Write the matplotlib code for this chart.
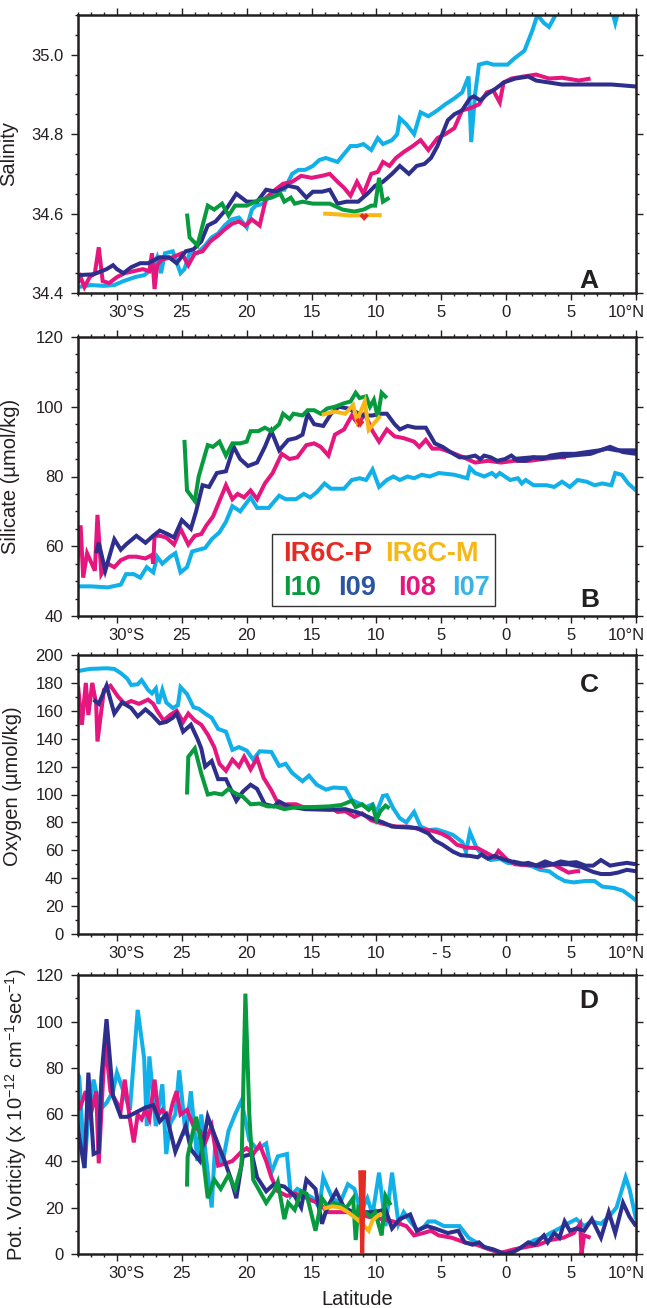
import matplotlib
matplotlib.use('Agg')
import matplotlib.pyplot as plt
from matplotlib.ticker import MultipleLocator
from matplotlib.patches import Rectangle

plt.rcParams['font.family'] = ['Liberation Sans', 'DejaVu Sans']
plt.rcParams['mathtext.fontset'] = 'custom'
plt.rcParams['mathtext.rm'] = 'Liberation Sans'
plt.rcParams['mathtext.it'] = 'Liberation Sans:italic'
plt.rcParams['mathtext.bf'] = 'Liberation Sans:bold'

# --- colours of the sections ---
C_I07 = '#12b0e8'
C_I08 = '#e5177e'
C_I09 = '#2e2f8c'
C_I10 = '#089a3e'
C_IR6P = '#e42b24'
C_IR6M = '#f6b816'
TXT = '#231f20'

# --- x axis (latitude, south negative) ---
lat_ticks = [-30, -25, -20, -15, -10, -5, 0, 5, 10]
lat_labels = ['30°S', '25', '20', '15', '10', '5', '0', '5', '10°N']
lat_labels_c = ['30°S', '25', '20', '15', '10', '- 5', '0', '5', '10°N']

# --- A: salinity (lat, value) ---
sal_i07 = [(-33.0, 34.415), (-32.0, 34.42), (-31.0, 34.418), (-30.2, 34.42), (-29.5, 34.43),
           (-28.6, 34.44), (-27.9, 34.445), (-27.3, 34.46), (-26.9, 34.49), (-26.6, 34.45),
           (-26.3, 34.50), (-25.7, 34.505), (-25.1, 34.45), (-24.8, 34.46), (-24.4, 34.50),
           (-23.8, 34.50), (-23.2, 34.52), (-22.7, 34.54), (-22.2, 34.55), (-21.7, 34.57),
           (-21.2, 34.585), (-20.6, 34.59), (-20.0, 34.565), (-19.6, 34.61), (-19.3, 34.62),
           (-18.7, 34.625), (-18.1, 34.65), (-17.5, 34.66), (-17.1, 34.66), (-16.5, 34.70),
           (-16.0, 34.71), (-15.5, 34.71), (-14.9, 34.72), (-14.4, 34.735), (-13.9, 34.74),
           (-13.0, 34.73), (-12.5, 34.75), (-12.0, 34.77), (-11.5, 34.77), (-11.0, 34.775),
           (-10.4, 34.76), (-9.9, 34.79), (-9.5, 34.775), (-8.8, 34.785), (-8.4, 34.80),
           (-8.2, 34.84), (-7.7, 34.825), (-7.1, 34.80), (-6.6, 34.855), (-6.0, 34.845),
           (-5.3, 34.86), (-4.7, 34.875), (-4.0, 34.89), (-3.4, 34.905), (-2.9, 34.945),
           (-2.7, 34.78), (-2.4, 34.90), (-2.1, 34.975), (-1.5, 34.98), (-1.0, 34.975),
           (-0.5, 34.975), (0.1, 34.975), (0.6, 34.99), (1.0, 35.0), (1.4, 35.01),
           (2.0, 35.06), (2.4, 35.10), (2.9, 35.08), (3.3, 35.07), (3.8, 35.10),
           (4.3, 35.13), (5.5, 35.14), (7.0, 35.14), (8.0, 35.13), (8.4, 35.08),
           (8.8, 35.13), (10.0, 35.14)]
sal_i08 = [(-33.0, 34.425), (-32.8, 34.44), (-32.5, 34.415), (-32.1, 34.44), (-31.7, 34.45),
           (-31.4, 34.515), (-31.1, 34.43), (-30.6, 34.425), (-30.0, 34.44), (-29.4, 34.45),
           (-28.7, 34.455), (-28.0, 34.46), (-27.5, 34.455), (-27.3, 34.50), (-27.1, 34.41),
           (-26.9, 34.47), (-26.5, 34.485), (-25.7, 34.49), (-25.0, 34.50), (-24.5, 34.47),
           (-24.0, 34.50), (-23.4, 34.505), (-22.8, 34.53), (-22.2, 34.545), (-21.7, 34.56),
           (-21.1, 34.575), (-20.6, 34.58), (-20.1, 34.57), (-19.6, 34.585), (-19.0, 34.57),
           (-18.5, 34.64), (-17.8, 34.66), (-17.2, 34.675), (-16.5, 34.68), (-15.8, 34.695),
           (-15.0, 34.69), (-14.2, 34.695), (-13.6, 34.70), (-13.0, 34.68), (-12.5, 34.665),
           (-12.0, 34.645), (-11.5, 34.68), (-11.0, 34.65), (-10.4, 34.70), (-9.9, 34.705),
           (-9.5, 34.73), (-9.0, 34.72), (-8.5, 34.74), (-7.9, 34.755), (-7.2, 34.77),
           (-6.6, 34.785), (-6.0, 34.76), (-5.3, 34.79), (-4.7, 34.80), (-4.0, 34.815),
           (-3.4, 34.86), (-2.8, 34.865), (-2.1, 34.875), (-1.5, 34.905), (-1.0, 34.91),
           (-0.5, 34.88), (-0.2, 34.93), (0.4, 34.94), (1.3, 34.945), (2.3, 34.95),
           (3.3, 34.94), (4.3, 34.942), (5.6, 34.935), (6.5, 34.94)]
sal_i09 = [(-33.0, 34.445), (-31.8, 34.447), (-30.8, 34.46), (-30.3, 34.47), (-30.0, 34.46),
           (-29.5, 34.45), (-28.9, 34.465), (-28.2, 34.475), (-27.6, 34.475), (-26.7, 34.49),
           (-26.0, 34.49), (-25.4, 34.475), (-24.7, 34.505), (-24.1, 34.51), (-23.5, 34.53),
           (-23.0, 34.57), (-22.4, 34.58), (-21.6, 34.61), (-20.8, 34.65), (-20.0, 34.63),
           (-19.2, 34.63), (-18.5, 34.66), (-17.7, 34.655), (-16.8, 34.67), (-16.1, 34.665),
           (-15.4, 34.64), (-14.9, 34.655), (-14.2, 34.655), (-13.6, 34.66), (-13.0, 34.625),
           (-12.3, 34.63), (-11.4, 34.63), (-10.7, 34.65), (-10.1, 34.67), (-9.5, 34.68),
           (-8.8, 34.70), (-8.2, 34.72), (-7.5, 34.70), (-6.9, 34.72), (-6.3, 34.725),
           (-5.8, 34.74), (-5.3, 34.77), (-4.5, 34.835), (-4.0, 34.85), (-3.4, 34.86),
           (-2.8, 34.89), (-2.5, 34.895), (-2.0, 34.885), (-1.5, 34.90), (-0.8, 34.915),
           (-0.2, 34.93), (0.7, 34.94), (1.7, 34.945), (2.3, 34.935), (3.3, 34.93),
           (4.3, 34.925), (6.2, 34.925), (8.1, 34.925), (10.0, 34.92)]
sal_i10 = [(-24.6, 34.60), (-24.4, 34.54), (-23.8, 34.52), (-23.0, 34.62), (-22.5, 34.61),
           (-21.9, 34.625), (-21.4, 34.595), (-20.9, 34.62), (-20.0, 34.62), (-19.0, 34.635),
           (-18.1, 34.64), (-17.4, 34.65), (-17.1, 34.63), (-16.6, 34.64), (-16.3, 34.625),
           (-15.7, 34.63), (-14.9, 34.625), (-13.6, 34.625), (-12.6, 34.61), (-11.7, 34.605),
           (-11.0, 34.61), (-10.4, 34.62), (-10.1, 34.62), (-9.8, 34.69), (-9.5, 34.63),
           (-9.0, 34.64)]
sal_ir6m = [(-14.1, 34.600), (-13.0, 34.598), (-12.0, 34.595), (-11.0, 34.596), (-10.0, 34.596),
            (-9.6, 34.596)]
sal_ir6p = [(-11.2, 34.598), (-10.95, 34.589), (-10.7, 34.598)]

# --- B: silicate ---
sil_i07 = [(-33.1, 48.5), (-32.0, 48.5), (-30.7, 48.2), (-29.7, 49), (-29.3, 52), (-28.7, 52),
           (-28.2, 51), (-27.7, 54), (-27.2, 52.5), (-26.9, 57), (-26.5, 55), (-25.9, 57),
           (-25.5, 58), (-25.1, 52.5), (-24.6, 54), (-24.2, 58.5), (-23.7, 59), (-23.2, 59.5),
           (-22.7, 62), (-22.1, 64), (-21.6, 67), (-21.1, 71.5), (-20.5, 70), (-19.7, 74),
           (-19.2, 71), (-18.3, 71), (-17.5, 74.5), (-17.0, 73.5), (-16.2, 73.5), (-15.6, 75),
           (-15.1, 74), (-14.6, 75.5), (-14.0, 78), (-13.5, 76.5), (-12.5, 76.5), (-11.9, 79),
           (-11.3, 79.5), (-10.8, 79), (-10.3, 82), (-9.8, 77), (-9.2, 79), (-8.7, 80),
           (-8.2, 79), (-7.6, 80), (-7.1, 79.5), (-6.5, 80.5), (-5.9, 80), (-5.2, 81),
           (-4.0, 80.5), (-3.0, 79.5), (-2.8, 82.5), (-2.4, 81), (-1.7, 80), (-1.1, 81),
           (-0.8, 80), (-0.5, 81), (0.3, 79), (0.9, 79.5), (1.2, 78), (1.5, 79), (2.1, 77.5),
           (3.1, 77.5), (3.7, 77), (4.3, 78.5), (4.9, 77), (5.5, 79), (6.2, 78.5), (6.8, 77.5),
           (7.4, 78), (8.1, 77.5), (8.4, 81), (8.9, 80.5), (9.4, 78), (10.0, 76)]
sil_i08 = [(-33.1, 53), (-32.8, 66), (-32.6, 51), (-32.3, 58), (-31.7, 53), (-31.5, 69),
           (-31.2, 52), (-30.7, 55), (-30.2, 54), (-29.7, 56), (-29.1, 57), (-28.5, 57),
           (-27.8, 56.5), (-27.3, 57.5), (-27.2, 55), (-27.1, 63), (-26.7, 63), (-26.2, 62.5),
           (-25.6, 60.5), (-25.1, 65), (-24.5, 60.5), (-24.0, 63), (-23.5, 63.5), (-23.1, 66),
           (-22.6, 68.5), (-22.1, 73), (-21.6, 77.5), (-21.1, 73.5), (-20.7, 75), (-20.2, 74),
           (-19.7, 76), (-19.2, 73.5), (-18.6, 78), (-18.0, 81), (-17.3, 86.5), (-16.7, 85),
           (-16.1, 85.5), (-15.4, 89), (-14.8, 89.5), (-14.3, 88.5), (-13.7, 86), (-13.2, 92),
           (-12.5, 93.5), (-11.9, 97.5), (-11.4, 95), (-10.9, 98), (-10.3, 93), (-9.8, 90),
           (-9.2, 93.5), (-8.6, 91.5), (-7.9, 91), (-7.1, 90), (-6.7, 88.5), (-6.2, 90.5),
           (-5.7, 88), (-5.1, 88), (-4.3, 87), (-3.3, 85.5), (-2.4, 84), (-1.4, 84.5),
           (-0.4, 84), (0.6, 84.5), (1.8, 84.5), (2.8, 85), (4.1, 85.5), (4.6, 85.5)]
sil_i09 = [(-31.6, 58), (-31.4, 61), (-30.9, 53), (-30.2, 62), (-29.7, 59), (-29.3, 60.5),
           (-28.5, 63), (-27.8, 61), (-27.2, 63), (-26.7, 64.5), (-26.1, 63.5), (-25.6, 62.5),
           (-25.0, 67.5), (-24.3, 65), (-23.9, 70), (-23.4, 77.5), (-22.9, 77), (-22.3, 81),
           (-21.6, 81.5), (-21.0, 88.5), (-20.5, 85), (-19.9, 83), (-19.2, 84), (-18.6, 88.5),
           (-18.1, 93), (-17.5, 87.5), (-16.8, 90.5), (-16.2, 91), (-15.7, 92), (-15.3, 98),
           (-14.8, 95), (-14.1, 94.5), (-13.5, 98), (-12.9, 100), (-12.2, 99.5), (-11.6, 98.5),
           (-11.0, 97.5), (-10.3, 97.5), (-9.7, 98), (-9.2, 98), (-8.6, 95), (-8.2, 93.5),
           (-7.6, 94.5), (-7.0, 94), (-6.2, 94), (-5.5, 89.5), (-4.9, 88.5), (-4.3, 87),
           (-3.6, 85.5), (-3.0, 85.5), (-2.4, 86), (-2.0, 85), (-1.7, 86), (-1.2, 85.5),
           (-0.7, 84.5), (-0.1, 85), (0.4, 86), (0.9, 84.5), (1.5, 84.5), (2.1, 85.5),
           (2.8, 85), (3.4, 86), (4.3, 86.5), (5.3, 86.5), (6.2, 87), (7.2, 87.5), (7.8, 88),
           (8.5, 87.5), (9.1, 87.5), (10.0, 87.5)]
sil_i09b = [(0.5, 85), (2.0, 85.5), (3.5, 85.5), (5.0, 86), (6.5, 86.5), (8.0, 88.5),
            (9.0, 87), (10.0, 86.5)]
sil_i10 = [(-24.8, 90.5), (-24.6, 76), (-24.0, 73), (-23.7, 80), (-23.0, 89), (-22.6, 88.5),
           (-22.1, 90), (-21.6, 86), (-21.1, 89.5), (-20.5, 89.5), (-20.0, 90), (-19.7, 93),
           (-19.1, 93), (-18.6, 94), (-18.1, 93), (-17.5, 95), (-17.2, 98), (-16.7, 96.5),
           (-16.4, 98), (-15.7, 97.5), (-15.3, 99), (-14.8, 99), (-14.3, 98), (-13.8, 99.5),
           (-13.2, 100), (-12.5, 101), (-12.0, 101.5), (-11.6, 104), (-11.3, 102.5),
           (-10.8, 103), (-10.5, 100), (-10.2, 102), (-9.9, 97), (-9.6, 104), (-9.2, 102.5)]
sil_ir6m = [(-14.2, 97.7), (-13.2, 98.6), (-12.4, 98), (-11.8, 100.5), (-11.5, 96),
            (-10.9, 101.5), (-10.6, 93.4), (-9.7, 97.4)]
sil_ir6p = [(-11.5, 96.5), (-11.25, 95), (-11.05, 96)]

# --- C: oxygen ---
oxy_i07 = [(-33.0, 188.5), (-32.1, 190), (-30.8, 190.5), (-30.2, 190), (-29.7, 187), (-29.2, 183),
           (-28.9, 178.5), (-28.4, 179), (-28.1, 182), (-27.6, 175), (-27.3, 172.5), (-27.0, 176),
           (-26.8, 165), (-26.5, 175), (-26.2, 166), (-25.7, 162), (-25.3, 164), (-25.1, 177),
           (-24.6, 172), (-24.1, 162.5), (-23.7, 161.5), (-23.2, 158), (-22.7, 155), (-22.2, 147),
           (-21.6, 145), (-21.1, 132), (-20.6, 134), (-20.0, 131.5), (-19.5, 125), (-19.0, 131),
           (-18.1, 130.5), (-17.5, 120.5), (-17.0, 122), (-16.5, 115.5), (-15.7, 109.5),
           (-15.2, 113.5), (-14.6, 107), (-13.9, 103.5), (-13.3, 105), (-12.4, 104.5),
           (-11.9, 96), (-11.2, 93), (-10.8, 91), (-10.3, 93), (-10.0, 87), (-9.5, 99),
           (-9.2, 99.5), (-8.7, 90), (-8.2, 83), (-7.7, 80), (-7.1, 87.5), (-6.6, 77),
           (-6.0, 74.5), (-5.4, 75), (-4.7, 73), (-4.1, 71), (-3.4, 66), (-3.1, 59), (-2.8, 73),
           (-2.3, 62), (-1.8, 56), (-1.2, 53), (-0.5, 54), (0.1, 51), (0.7, 50.5), (1.4, 49.5),
           (2.0, 48.5), (2.6, 46), (3.3, 45), (3.9, 41), (4.5, 38), (5.2, 37), (6.1, 38),
           (6.8, 38), (7.4, 34), (8.3, 33), (9.0, 31), (9.6, 27), (10.0, 24)]
oxy_i08 = [(-33.0, 178), (-32.7, 150), (-32.4, 180), (-32.2, 157), (-31.9, 180), (-31.6, 165),
           (-31.5, 138), (-31.0, 175), (-30.5, 178), (-29.9, 170), (-29.4, 165), (-28.9, 167),
           (-28.3, 165), (-27.6, 168), (-27.2, 165), (-26.9, 160), (-26.4, 153), (-25.9, 157),
           (-25.4, 160), (-24.9, 152), (-24.5, 158), (-24.0, 153), (-23.5, 150), (-23.0, 143),
           (-22.5, 134), (-22.1, 122), (-21.6, 117), (-21.1, 125), (-20.6, 120), (-20.2, 127),
           (-19.7, 118), (-19.2, 126), (-18.7, 112), (-18.1, 103), (-17.5, 92), (-16.8, 93),
           (-16.2, 93), (-15.4, 90), (-14.6, 90.5), (-13.6, 91), (-13.0, 87.5), (-12.4, 88),
           (-11.7, 84), (-11.1, 86.5), (-10.4, 81.5), (-9.5, 79), (-8.5, 77), (-7.6, 77),
           (-6.6, 75), (-5.7, 74), (-5.0, 72), (-4.4, 69), (-3.8, 64), (-3.1, 62), (-2.2, 61.5),
           (-1.5, 58), (-0.9, 55), (-0.6, 59.5), (0.1, 53), (0.7, 50), (1.4, 49.5), (2.0, 50),
           (2.6, 48), (3.6, 50), (4.2, 47), (4.8, 44), (5.4, 45), (5.7, 45)]
oxy_i09 = [(-31.8, 168), (-31.4, 165), (-30.8, 178), (-30.2, 158), (-29.6, 166), (-28.9, 162),
           (-28.4, 156), (-27.8, 161), (-27.3, 157), (-26.7, 151), (-26.2, 152), (-25.7, 155),
           (-25.4, 158), (-24.9, 145), (-24.3, 150), (-23.8, 140), (-23.5, 133), (-23.2, 120),
           (-22.7, 124), (-22.2, 111), (-21.6, 111), (-20.8, 95.5), (-20.3, 102), (-19.7, 107),
           (-19.2, 104), (-18.6, 93), (-17.9, 91.5), (-17.5, 95), (-16.8, 91.5), (-15.5, 89.5),
           (-13.6, 89), (-12.4, 89.5), (-11.4, 87), (-10.4, 83), (-9.5, 80), (-8.8, 77),
           (-7.9, 76.5), (-6.9, 76), (-6.0, 72), (-5.5, 67), (-4.9, 64), (-4.1, 59), (-3.5, 56.5),
           (-2.8, 56), (-2.2, 55), (-1.9, 57), (-1.4, 54), (-0.9, 56), (-0.2, 53.5), (0.4, 52),
           (1.1, 50), (1.7, 51), (2.3, 49), (3.0, 52), (3.6, 50), (4.2, 52), (4.8, 51),
           (5.4, 51.5), (6.1, 49), (6.7, 49), (7.3, 53), (8.0, 49), (8.6, 50), (9.3, 51),
           (10.0, 50)]
oxy_i09b = [(0.5, 52), (1.5, 50), (2.5, 49), (3.6, 50), (4.8, 50), (5.8, 48), (6.7, 44.5),
            (7.3, 43), (8.0, 43), (8.6, 44), (9.3, 46), (10.0, 45)]
oxy_i10 = [(-24.6, 100), (-24.5, 127), (-24.0, 133), (-23.5, 115), (-23.0, 100), (-22.5, 101),
           (-21.9, 100), (-21.4, 104), (-20.9, 101), (-20.3, 98.5), (-19.7, 93), (-19.0, 93.5),
           (-18.4, 91.5), (-17.8, 91.5), (-17.1, 89.5), (-16.2, 91), (-14.9, 91), (-13.6, 91.5),
           (-12.7, 92.5), (-11.9, 95.5), (-11.6, 91), (-11.1, 93), (-10.6, 89), (-10.3, 92),
           (-10.0, 82), (-9.7, 88), (-9.3, 92), (-9.0, 90)]

# --- D: potential vorticity ---
pv_i07 = [(-33.2, 80), (-32.9, 76), (-32.5, 37), (-32.2, 60), (-31.8, 75), (-31.3, 62), (-30.8, 65),
          (-30.3, 70), (-30.0, 78), (-29.5, 70), (-29.0, 62), (-28.4, 105), (-27.9, 84),
          (-27.7, 55), (-27.5, 85), (-27.0, 55), (-26.5, 73), (-26.2, 43), (-25.9, 56),
          (-25.5, 60), (-25.2, 79), (-24.7, 51), (-24.3, 70), (-23.8, 40), (-23.5, 60),
          (-23.0, 35), (-22.7, 20), (-22.4, 50), (-21.9, 38), (-21.4, 53), (-20.9, 60),
          (-20.4, 66), (-19.8, 49), (-19.2, 45), (-18.5, 47.5), (-18.1, 35), (-17.6, 42),
          (-16.9, 43), (-16.6, 25), (-16.1, 28), (-15.5, 26), (-14.9, 24), (-14.4, 20),
          (-14.1, 33), (-13.4, 24), (-12.8, 22), (-12.2, 30), (-11.7, 28), (-11.2, 18),
          (-10.7, 24), (-10.3, 17), (-9.8, 35), (-9.3, 12), (-8.8, 35), (-8.3, 13), (-7.9, 18),
          (-7.4, 14), (-6.8, 10), (-6.3, 12), (-6.0, 14), (-5.5, 14), (-4.8, 12), (-4.2, 12),
          (-3.6, 12), (-2.9, 7), (-2.3, 5), (-1.7, 3), (-1.0, 1.5), (-0.4, 0.5), (0.3, 1),
          (0.9, 2), (1.5, 4), (2.2, 6), (2.8, 7), (3.4, 9), (4.1, 11), (4.7, 13), (5.4, 15),
          (6.0, 12), (6.6, 14), (7.3, 13), (7.9, 16), (8.5, 20), (9.2, 33), (9.5, 28),
          (10.0, 15)]
pv_i08 = [(-33.2, 72), (-32.9, 62), (-32.4, 70), (-32.1, 58), (-31.6, 70), (-31.4, 39), (-31.1, 72),
          (-30.9, 92), (-30.5, 70), (-30.2, 67), (-29.7, 62), (-29.4, 75), (-29.0, 58),
          (-28.7, 48), (-28.4, 60), (-28.1, 58), (-27.8, 62), (-27.5, 58), (-27.1, 75),
          (-26.8, 60), (-26.5, 62), (-26.0, 58), (-25.7, 65), (-25.4, 70), (-25.1, 60),
          (-24.6, 62), (-24.1, 55), (-23.6, 53), (-23.2, 48), (-22.7, 55), (-22.2, 38),
          (-21.6, 39), (-21.1, 40), (-20.4, 44), (-20.0, 45.5), (-19.5, 43), (-19.0, 47),
          (-18.5, 40), (-18.1, 33), (-17.6, 27), (-16.9, 25), (-16.3, 26), (-15.7, 25),
          (-15.0, 23), (-14.4, 22), (-13.8, 18), (-12.8, 18), (-11.8, 18), (-11.2, 17),
          (-10.6, 16), (-9.6, 15), (-8.7, 14), (-7.7, 12), (-7.1, 8), (-6.4, 9), (-5.8, 10),
          (-5.2, 8), (-4.2, 7), (-3.2, 5), (-2.3, 4), (-1.3, 2), (-0.4, 0.5), (0.6, 2),
          (1.5, 3), (2.5, 4), (3.4, 6), (4.4, 7), (5.2, 9), (5.7, 13), (5.8, 0), (6.0, 8),
          (6.5, 7)]
pv_i09 = [(-33.2, 65), (-32.9, 50), (-32.5, 37), (-32.2, 78), (-31.8, 43), (-31.4, 44), (-31.2, 76),
          (-30.8, 101), (-30.3, 68), (-29.7, 59), (-29.2, 59), (-28.5, 61), (-27.8, 63),
          (-27.2, 64), (-26.7, 57), (-26.2, 60), (-25.5, 44), (-24.7, 55), (-24.3, 45),
          (-23.6, 40), (-23.0, 59), (-22.4, 50), (-21.7, 40), (-21.2, 32), (-20.8, 24),
          (-20.3, 42), (-19.6, 43), (-19.2, 33), (-18.5, 27), (-17.9, 30), (-17.1, 29),
          (-16.3, 25), (-15.8, 20), (-15.4, 32), (-14.7, 28), (-14.2, 13), (-13.8, 20),
          (-13.1, 27), (-12.5, 20), (-11.8, 18), (-11.2, 18), (-10.3, 18), (-9.3, 19), (-8.8, 11),
          (-8.2, 15), (-7.4, 17), (-6.9, 10), (-6.1, 12), (-5.5, 11), (-4.5, 9), (-3.7, 10),
          (-3.2, 5), (-2.6, 4), (-2.1, 5), (-1.7, 3), (-1.0, 2), (-0.1, 0), (0.6, 1), (1.2, 3),
          (1.7, 5), (2.2, 4), (2.9, 8), (3.2, 5), (3.7, 9), (4.1, 7), (4.5, 14), (4.9, 10),
          (5.4, 11), (6.0, 10), (6.6, 15), (7.3, 7), (7.9, 18), (8.4, 9), (9.0, 22), (9.5, 16),
          (10.0, 12)]
pv_i10 = [(-24.6, 29), (-24.55, 42), (-23.9, 59), (-23.5, 48), (-23.0, 24), (-22.5, 32),
          (-22.0, 28), (-21.4, 34), (-20.9, 28), (-20.4, 38), (-20.1, 112), (-19.8, 60),
          (-19.5, 32), (-18.5, 22), (-17.9, 27), (-17.6, 31), (-17.1, 15), (-16.8, 22),
          (-16.3, 19), (-15.8, 27), (-15.4, 26), (-14.7, 10), (-14.2, 24), (-13.7, 20),
          (-13.3, 22), (-12.8, 21), (-12.3, 20), (-11.8, 24), (-11.6, 6), (-11.4, 20),
          (-10.9, 18), (-10.4, 16), (-10.1, 18), (-9.6, 8), (-9.3, 25), (-8.9, 21)]
pv_ir6m = [(-14.1, 19.5), (-13.4, 20.5), (-12.8, 20), (-12.2, 18), (-11.5, 15), (-11.1, 13),
           (-10.6, 10), (-10.3, 14.5), (-10.0, 16), (-9.6, 17.5)]
pv_ir6p = [(-11.25, 36), (-11.1, 0.5), (-10.95, 36)]

fig = plt.figure(figsize=(6.47, 13.08), dpi=100)
W, H = 647.0, 1308.0
LEFT, RIGHT = 78, 636
panel_px = [(15, 293), (337, 616), (655, 934), (975, 1254)]  # top, bottom in pixels


def make_axes(top, bottom):
    return fig.add_axes([LEFT / W, 1 - bottom / H, (RIGHT - LEFT) / W, (bottom - top) / H])


def style_axes(ax, ylim, major, minor, labels):
    ax.set_xlim(-33, 10)
    ax.set_ylim(*ylim)
    ax.set_xticks(lat_ticks)
    ax.xaxis.set_minor_locator(MultipleLocator(1))
    ax.yaxis.set_major_locator(MultipleLocator(major))
    ax.yaxis.set_minor_locator(MultipleLocator(minor))
    ax.tick_params(which='both', direction='out', top=True, right=True,
                   color=TXT, width=1.0, labelsize=12, labelcolor=TXT)
    ax.tick_params(which='major', length=5)
    ax.tick_params(which='minor', length=2.3)
    ax.tick_params(axis='y', pad=5.5)
    ax.tick_params(axis='x', labelbottom=False)
    for s in ax.spines.values():
        s.set_linewidth(1.8)
        s.set_color(TXT)
    # latitude labels: number centred on the tick, hemisphere letter trailing
    for lat, lbl in zip(lat_ticks, labels):
        ha, dx = 'center', 0
        if lbl.endswith('S'):
            ha, dx = 'left', -9
        elif lbl.endswith('N'):
            ha, dx = 'right', 9
        ax.annotate(lbl, xy=(lat, 0), xycoords=('data', 'axes fraction'),
                    xytext=(dx, -12), textcoords='offset pixels',
                    ha=ha, va='top', fontsize=12, color=TXT)


def draw(ax, series):
    for pts, color in series:
        lat, val = zip(*pts)
        ax.plot(lat, val, color=color, lw=2.9, solid_joinstyle='miter', solid_capstyle='butt')


axA, axB, axC, axD = [make_axes(t, b) for t, b in panel_px]

draw(axA, [(sal_i07, C_I07), (sal_i08, C_I08), (sal_i09, C_I09), (sal_i10, C_I10),
           (sal_ir6m, C_IR6M), (sal_ir6p, C_IR6P)])
style_axes(axA, (34.4, 35.1), 0.2, 0.05, lat_labels)
axA.yaxis.set_major_formatter(plt.FormatStrFormatter('%.1f'))
axA.set_ylabel('Salinity', fontsize=14.5, color=TXT)
axA.yaxis.set_label_coords(-0.108, 0.5)
axA.text(0.916, 0.018, 'A', transform=axA.transAxes, ha='center', va='baseline',
         fontsize=19, fontweight='bold', color=TXT)

draw(axB, [(sil_i07, C_I07), (sil_i08, C_I08), (sil_i09, C_I09), (sil_i09b, C_I09),
           (sil_i10, C_I10), (sil_ir6m, C_IR6M), (sil_ir6p, C_IR6P)])
style_axes(axB, (40, 120), 20, 5, lat_labels)
axB.set_ylabel('Silicate (µmol/kg)', fontsize=14.5, color=TXT)
axB.yaxis.set_label_coords(-0.104, 0.5)
axB.text(0.918, 0.032, 'B', transform=axB.transAxes, ha='center', va='baseline',
         fontsize=19, fontweight='bold', color=TXT)

# colour-text legend box
axB.add_patch(Rectangle((0.348, 0.036), 0.399, 0.258, transform=axB.transAxes,
                        facecolor='white', edgecolor='#333333', lw=1.0, zorder=5))
legend_rows = [
    [('IR6C-P', C_IR6P, 0.367), ('IR6C-M', C_IR6M, 0.550)],
    [('I10', C_I10, 0.367), ('I09', '#2b55a2', 0.466), ('I08', C_I08, 0.573), ('I07', '#3ab3e4', 0.670)],
]
for row_y, row in zip([0.222, 0.100], legend_rows):
    for name, color, xpos in row:
        axB.text(xpos, row_y, name, transform=axB.transAxes, ha='left', va='center',
                 fontsize=19.5, fontweight='bold', color=color, zorder=6)

draw(axC, [(oxy_i07, C_I07), (oxy_i08, C_I08), (oxy_i09, C_I09), (oxy_i09b, C_I09),
           (oxy_i10, C_I10)])
style_axes(axC, (0, 200), 20, 10, lat_labels_c)
axC.set_ylabel('Oxygen (µmol/kg)', fontsize=14.5, color=TXT)
axC.yaxis.set_label_coords(-0.101, 0.53)
axC.text(0.916, 0.867, 'C', transform=axC.transAxes, ha='center', va='baseline',
         fontsize=19, fontweight='bold', color=TXT)

draw(axD, [(pv_i07, C_I07), (pv_i08, C_I08), (pv_i09, C_I09), (pv_i10, C_I10),
           (pv_ir6m, C_IR6M), (pv_ir6p, C_IR6P)])
style_axes(axD, (0, 120), 20, 10, lat_labels)
axD.set_ylabel('Pot. Vorticity (x 10$^{-12}$ cm$^{-1}$sec$^{-1}$)', fontsize=14.5, color=TXT)
axD.yaxis.set_label_coords(-0.088, 0.5)
axD.text(0.916, 0.882, 'D', transform=axD.transAxes, ha='center', va='baseline',
         fontsize=19, fontweight='bold', color=TXT)
axD.set_xlabel('Latitude', fontsize=14.5, color=TXT, labelpad=20)

fig.savefig('out.png', dpi=100)
